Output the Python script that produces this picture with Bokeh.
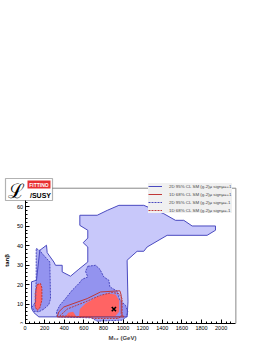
import math
from bokeh.plotting import figure
from bokeh.models import Range1d, Legend, LegendItem, Label, BoxAnnotation, FixedTicker
from bokeh.embed import file_html
from bokeh.resources import INLINE

# ---- data (M12 in GeV, tan beta) ----
pos2d_x = [141, 90, 66, 66, 117, 151, 219, 226, 294, 311, 379, 379, 464, 549, 640, 640, 593, 640, 640,
           559, 559, 736, 838, 957, 1211, 1415, 1534, 1619, 1704, 1942, 1942, 1857, 1449, 1245, 1211,
           1143, 1041, 1050, 1041]
pos2d_y = [3.4, 5.6, 7.7, 21.4, 22.2, 37.6, 40.2, 36.4, 31.6, 29.9, 29.9, 26.5, 24.3, 27.9, 31.6, 39.3,
           41.5, 43.9, 47.9, 50.4, 55.6, 55.6, 58.1, 60.7, 60.7, 56.4, 53.0, 53.0, 50.1, 50.1, 47.9, 45.3,
           45.3, 39.3, 37.1, 37.1, 32.5, 11.1, 3.4]

neg2d_left_x = [114, 150, 175, 253, 260, 243, 192, 141, 90, 73, 107, 114]
neg2d_left_y = [38.5, 37.6, 35.9, 31.6, 12.8, 9.7, 7.4, 6.0, 6.3, 8.5, 11.1, 23.1]
neg2d_mid_x = [640, 719, 763, 804, 855, 865, 940, 967, 1024, 1048, 1035, 990, 736, 675, 328, 321, 355,
               413, 481, 549, 583, 640, 617]
neg2d_mid_y = [29.4, 29.9, 27.9, 23.9, 22.2, 18.8, 16.6, 12.0, 9.4, 6.0, 3.4, 1.7, 1.2, 2.9, 3.4, 6.0,
               9.4, 12.8, 17.1, 20.5, 22.7, 23.9, 26.8]

red_left_x = [124, 158, 172, 172, 151, 124, 104, 104]
red_left_y = [20.0, 20.5, 18.3, 12.0, 8.0, 6.8, 8.5, 15.4]
red_main_x = [549, 559, 617, 719, 838, 923, 960, 960, 923]
red_main_y = [3.4, 7.4, 10.3, 13.2, 15.4, 14.9, 12.0, 6.0, 3.9]
red_small_x = [413, 440, 491, 525]
red_small_y = [3.4, 5.5, 6.0, 3.4]

pos1d_x = [328, 345, 396, 634, 770, 967, 981, 981, 1008, 328]
pos1d_y = [3.4, 6.0, 8.5, 12.8, 16.2, 16.8, 14.5, 5.1, 3.4, 3.4]

neg1d_x = [355, 430, 634, 770, 889, 956, 990, 990, 956, 702, 651, 355]
neg1d_y = [3.9, 7.4, 11.5, 14.5, 15.9, 15.4, 12.8, 4.6, 2.6, 2.6, 3.4, 3.9]

best_x = [906]
best_y = [7.4]

x_ticks = [0, 200, 400, 600, 800, 1000, 1200, 1400, 1600, 1800, 2000]
y_ticks = [0, 10, 20, 30, 40, 50, 60]
x_max = 2150   # end of the chart's frame (GeV)
y_max = 69.5   # end of the chart's frame (tan beta)

labels = ["2D 95% CL SM (g-2)\u03bc sign\u03bc=+1",
          "1D 68% CL SM (g-2)\u03bc sign\u03bc=+1",
          "2D 95% CL SM (g-2)\u03bc sign\u03bc=-1",
          "1D 68% CL SM (g-2)\u03bc sign\u03bc=-1"]

FONT = "Liberation Sans"

p = figure(width=266, height=344, output_backend="svg", toolbar_location=None,
           x_range=Range1d(-250, 2238), y_range=Range1d(0, 75),
           min_border_left=0, min_border_right=22, min_border_top=177, min_border_bottom=21)
p.xgrid.visible = False
p.ygrid.visible = False
p.outline_line_color = None
p.background_fill_color = "white"

BLUE_L = "#c8c8fa"
BLUE_M = "#7070e8"
LINE_B = "#4a4ac0"
RED_F = "#ff6464"
LINE_R = "#c03838"

p.patch(pos2d_x, pos2d_y, fill_color=BLUE_L, line_color=None)
p.patches([neg2d_left_x, neg2d_mid_x], [neg2d_left_y, neg2d_mid_y], fill_color=BLUE_M,
          fill_alpha=0.6, line_color=None)
p.patches([red_left_x, red_main_x, red_small_x], [red_left_y, red_main_y, red_small_y],
          fill_color=RED_F, line_color=None)

r1 = p.line(pos2d_x + pos2d_x[:1], pos2d_y + pos2d_y[:1], line_color=LINE_B, line_width=1)
r3 = p.multi_line([neg2d_left_x + neg2d_left_x[:1], neg2d_mid_x + neg2d_mid_x[:1]],
                  [neg2d_left_y + neg2d_left_y[:1], neg2d_mid_y + neg2d_mid_y[:1]],
                  line_color=LINE_B, line_width=1, line_dash="2 1")
r2 = p.line(pos1d_x, pos1d_y, line_color=LINE_R, line_width=1)
r4 = p.multi_line([neg1d_x, red_left_x + red_left_x[:1]], [neg1d_y, red_left_y + red_left_y[:1]],
                  line_color=LINE_R, line_width=1, line_dash="2 1")
p.scatter(best_x, best_y, marker="x", size=6, line_color="black", line_width=1.5)

# frame: top and right edges (grey)
p.segment(x0=[0, x_max], y0=[y_max, 0], x1=[x_max, x_max], y1=[y_max, y_max],
          line_color="#888888", line_width=1)

for ax in (p.xaxis[0], p.yaxis[0]):
    ax.major_tick_in = 4
    ax.major_tick_out = 0
    ax.minor_tick_in = 2
    ax.minor_tick_out = 0
    ax.major_label_text_font = FONT
    ax.major_label_text_font_size = "5.5px"
    ax.major_label_text_color = "black"
    ax.axis_label_text_font = FONT
    ax.axis_label_text_font_size = "6px"
    ax.axis_label_text_font_style = "bold"
    ax.major_label_standoff = 2
    ax.axis_label_standoff = 2
    ax.axis_line_color = "black"

p.xaxis.ticker = FixedTicker(ticks=x_ticks, minor_ticks=list(range(0, 2150, 50)))
p.yaxis.ticker = FixedTicker(ticks=y_ticks, minor_ticks=list(range(0, 70, 2)))
p.xaxis.bounds = (0, x_max)
p.yaxis.bounds = (0, y_max)
p.yaxis.fixed_location = 0
p.xaxis.axis_label = "M\u2081\u2082 (GeV)"

p.add_layout(Label(x=6, y=63, x_units="screen", y_units="screen", text="tan\u03b2",
                   angle=math.pi / 2, text_font=FONT, text_font_size="6px", text_font_style="bold",
                   text_color="black", text_align="center", text_baseline="middle"))

legend = Legend(items=[LegendItem(label=labels[0], renderers=[r1]),
                       LegendItem(label=labels[1], renderers=[r2]),
                       LegendItem(label=labels[2], renderers=[r3]),
                       LegendItem(label=labels[3], renderers=[r4])],
                location=(148, 110), label_text_font=FONT, label_text_font_size="4.4px",
                glyph_width=14, glyph_height=6, label_height=6,
                spacing=2, padding=2, margin=0, label_standoff=7,
                background_fill_color="#f0f0f0", background_fill_alpha=1.0,
                border_line_color=None)
p.add_layout(legend, "center")

# logo (screen units relative to the frame's bottom-left)
p.add_layout(BoxAnnotation(left=5, right=52, bottom=123, top=145, left_units="screen",
                           right_units="screen", bottom_units="screen", top_units="screen",
                           fill_color="white", fill_alpha=1.0, line_color="black", line_width=1.2))
p.add_layout(BoxAnnotation(left=27, right=50, bottom=135, top=143, left_units="screen",
                           right_units="screen", bottom_units="screen", top_units="screen",
                           fill_color="#e83030", fill_alpha=1.0, line_color=None))
p.add_layout(Label(x=38.5, y=139, x_units="screen", y_units="screen", text="FITTINO",
                   text_font=FONT, text_font_size="5px", text_font_style="bold",
                   text_color="white", text_align="center", text_baseline="middle"))
p.add_layout(Label(x=40, y=128.5, x_units="screen", y_units="screen", text="/SUSY",
                   text_font=FONT, text_font_size="7px", text_font_style="bold",
                   text_color="black", text_align="center", text_baseline="middle"))
p.add_layout(Label(x=16, y=133, x_units="screen", y_units="screen", text="\u2112",
                   text_font="DejaVu Serif", text_font_size="20px",
                   text_color="black", text_align="center", text_baseline="middle"))

open("out.html", "w").write(file_html(p, INLINE))
